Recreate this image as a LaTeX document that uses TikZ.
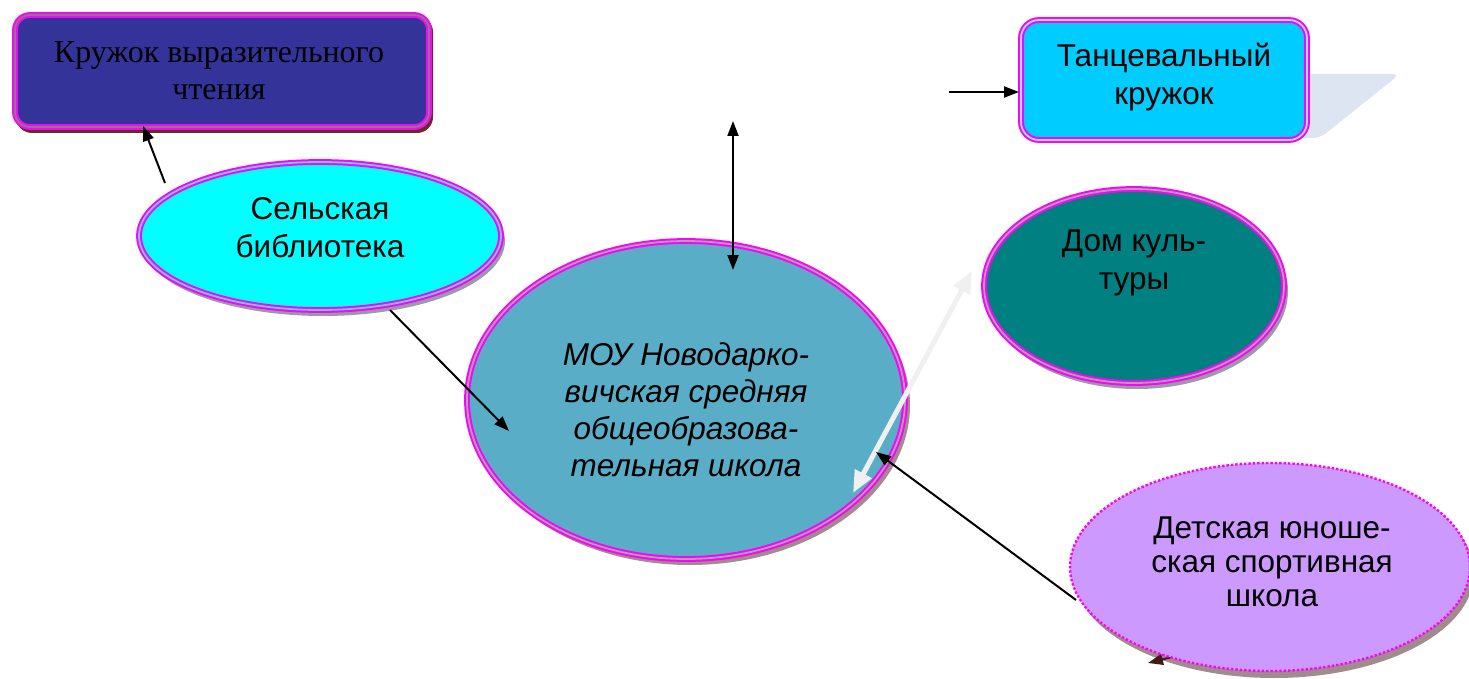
\documentclass[tikz,border=0pt]{standalone}
\usepackage{fontspec}
\setmainfont{Liberation Serif}
\newfontfamily\arialf{Liberation Sans}
\usetikzlibrary{shapes.geometric,arrows.meta}
\definecolor{mag}{HTML}{FF00FF}
\definecolor{navyfill}{HTML}{333399}
\definecolor{skyfill}{HTML}{00CCFF}
\definecolor{cyanfill}{HTML}{00FFFF}
\definecolor{moufill}{HTML}{5AADC6}
\definecolor{tealfill}{HTML}{008080}
\definecolor{lilacfill}{HTML}{CC99FF}
\definecolor{shadowgray}{HTML}{9A9AA8}
\definecolor{shadowbrown}{HTML}{6B2A2A}
\definecolor{shadowrose}{HTML}{A08C8C}
\definecolor{paleblue}{HTML}{DCE5F1}
\definecolor{arrowwhite}{HTML}{F0F0F0}
\tikzset{
  x=1pt,y=-1pt,
  frame/.style={draw=mag,line width=2pt,double=#1,double distance=1.8pt},
  ell/.style={ellipse,inner sep=0pt},
  lbl/.style={font=\arialf\fontsize{31.5}{38}\selectfont,align=center,text=black},
  conn/.style={line width=2pt,-{Triangle[length=15pt,width=11pt]}},
  conn2/.style={line width=2pt,{Triangle[length=15pt,width=11pt]}-{Triangle[length=15pt,width=11pt]}},
}
\begin{document}
\begin{tikzpicture}
\useasboundingbox (0,0) rectangle (1469,679);
% shadows
\fill[shadowbrown,rounded corners=16pt] (16,16) rectangle (433,133);
\fill[paleblue,rounded corners=8pt] (1290,74) -- (1400,74) -- (1320,138) -- (1290,138) -- cycle;
\fill[shadowgray] (323,241) ellipse [x radius=182,y radius=75];
\fill[shadowrose] (690,405) ellipse [x radius=220,y radius=160];
\fill[shadowgray] (1137,291) ellipse [x radius=151,y radius=98];
\fill[shadowrose] (1274,573) ellipse [x radius=200,y radius=105];
% hidden arrow piece under the sports school
\coordinate (hidA) at (1200,650);
\coordinate (hidB) at (1148,663);
\draw[conn,shadowbrown!60!black] (hidA) -- (hidB);
% boxes
\node[rectangle,rounded corners=15pt,frame=gray,fill=navyfill,minimum width=414,minimum height=112,anchor=north west] (kruzhok) at (14,14) {};
\node[font=\fontsize{32}{37}\selectfont,align=center,text=black] (kruzhokT) at (219,71) {Кружок выразительного\\чтения};
\node[rectangle,rounded corners=18pt,frame=cyan!40,fill=skyfill,minimum width=286,minimum height=120,anchor=north west] (tanec) at (1020,19) {};
\node[lbl] (tanecT) at (1164,77) {Танцевальный\\кружок};
% ellipses
\node[ell,frame=cyan!60,fill=cyanfill,minimum width=362,minimum height=148] (bibl) at (320,236) {};
\node[lbl] (biblT) at (320,228) {Сельская\\библиотека};
\node[ell,frame=gray!70,fill=moufill,minimum width=438,minimum height=318] (mou) at (686,400) {};
\node[lbl,font=\arialf\itshape\fontsize{31.5}{37}\selectfont] (mouT) at (686,410) {МОУ Новодарко-\\вичская средняя\\общеобразова-\\тельная школа};
\node[ell,frame=gray!70,fill=tealfill,minimum width=300,minimum height=194] (dom) at (1134,286) {};
\node[lbl] (domT) at (1134,263) {Дом куль-\\туры};
\node[ell,draw=mag,line width=2.4pt,dotted,fill=lilacfill,minimum width=400,minimum height=208] (dush) at (1270,567) {};
\node[lbl,font=\arialf\fontsize{31.5}{34}\selectfont] (dushT) at (1272,562) {Детская юноше-\\ская спортивная\\школа};
% connectors
\coordinate (a1s) at (165,183);
\coordinate (a1e) at (143,126);
\draw[conn] (a1s) -- (a1e);
\coordinate (a2s) at (390,310);
\coordinate (a2e) at (509,431);
\draw[conn] (a2s) -- (a2e);
\coordinate (a3s) at (733,121);
\coordinate (a3e) at (733,270);
\draw[conn2] (a3s) -- (a3e);
\coordinate (a4s) at (949,92);
\coordinate (a4e) at (1019,92);
\draw[conn] (a4s) -- (a4e);
\coordinate (a5s) at (972,271);
\coordinate (a5e) at (853,493);
\draw[line width=5pt,arrowwhite,{Triangle[length=22pt,width=18pt]}-{Triangle[length=22pt,width=18pt]}] (a5s) -- (a5e);
\coordinate (a6s) at (1076,600);
\coordinate (a6e) at (876,452);
\draw[conn] (a6s) -- (a6e);
\end{tikzpicture}
\end{document}
